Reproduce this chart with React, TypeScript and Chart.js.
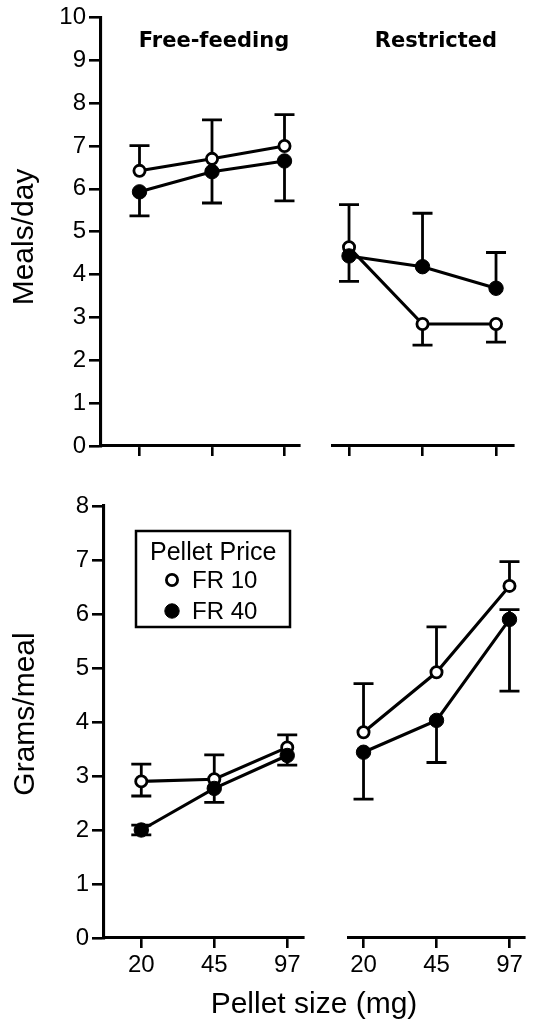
import React, { useEffect, useRef } from "react";
import { Chart, registerables } from "chart.js";

Chart.register(...registerables);

// ---------- data ----------
const pelletSizes = ["20", "45", "97"];
const groupNames = ["Free-feeding", "Restricted"];
const seriesLabels = ["FR 10", "FR 40"];
const legendTitle = "Pellet Price";
const mealsTicks = [0, 1, 2, 3, 4, 5, 6, 7, 8, 9, 10];
const gramsTicks = [0, 1, 2, 3, 4, 5, 6, 7, 8];
const mealsTitle = "Meals/day";
const gramsTitle = "Grams/meal";
const xTitle = "Pellet size (mg)";

// Meals/day – free-feeding
const mealsFreeFR10 = [6.42, 6.7, 7.0];
const mealsFreeFR10Hi = [7.01, 7.61, 7.73];
const mealsFreeFR10Lo = [null, null, null];
const mealsFreeFR40 = [5.93, 6.4, 6.65];
const mealsFreeFR40Hi = [null, null, null];
const mealsFreeFR40Lo = [5.37, 5.67, 5.72];
// Meals/day – restricted
const mealsRestFR10 = [4.61, 2.83, 2.83];
const mealsRestFR10Hi = [5.6, null, null];
const mealsRestFR10Lo = [null, 2.34, 2.41];
const mealsRestFR40 = [4.41, 4.16, 3.66];
const mealsRestFR40Hi = [null, 5.4, 4.49];
const mealsRestFR40Lo = [3.82, null, null];

// Grams/meal – free-feeding
const gramsFreeFR10 = [2.9, 2.94, 3.53];
const gramsFreeFR10Hi = [3.22, 3.39, 3.76];
const gramsFreeFR10Lo = [2.63, null, null];
const gramsFreeFR40 = [2.0, 2.77, 3.38];
const gramsFreeFR40Hi = [2.09, null, null];
const gramsFreeFR40Lo = [1.91, 2.51, 3.2];
// Grams/meal – restricted
const gramsRestFR10 = [3.81, 4.92, 6.52];
const gramsRestFR10Hi = [4.71, 5.76, 6.97];
const gramsRestFR10Lo = [null, null, null];
const gramsRestFR40 = [3.44, 4.03, 5.9];
const gramsRestFR40Hi = [null, null, 6.08];
const gramsRestFR40Lo = [2.57, 3.25, 4.57];

// ---------- styling ----------
const W = 534;
const TICK_FONT = "Liberation Sans";
const LINE_W = 3.1;

const errorBarPlugin = {
  id: "errbars",
  beforeDatasetsDraw(chart: any) {
    const ctx = chart.ctx;
    const ys = chart.scales.y;
    ctx.save();
    ctx.strokeStyle = "#000";
    ctx.lineWidth = 2.8;
    chart.data.datasets.forEach((ds: any, di: number) => {
      const meta = chart.getDatasetMeta(di);
      meta.data.forEach((pt: any, i: number) => {
        [ds.errHi?.[i], ds.errLo?.[i]].forEach((e: any) => {
          if (e == null) return;
          const y = ys.getPixelForValue(e);
          ctx.beginPath();
          ctx.moveTo(pt.x, pt.y);
          ctx.lineTo(pt.x, y);
          ctx.moveTo(pt.x - 10, y);
          ctx.lineTo(pt.x + 10, y);
          ctx.stroke();
        });
      });
    });
    ctx.restore();
  },
};

type Panel = {
  top: number;
  height: number;
  area: { left: number; right: number; top: number; bottom: number };
  xMin: number;
  xMax: number;
  yMax: number;
  yTicks: number[];
  showY: boolean;
  showXLabels: boolean;
  fr10: number[];
  fr10Hi: (number | null)[];
  fr10Lo: (number | null)[];
  fr40: number[];
  fr40Hi: (number | null)[];
  fr40Lo: (number | null)[];
  draw: (ctx: CanvasRenderingContext2D, chart: any, offY: number) => void;
};

function drawRotated(ctx: CanvasRenderingContext2D, text: string, x: number, y: number, font: string) {
  ctx.save();
  ctx.translate(x, y);
  ctx.rotate(-Math.PI / 2);
  ctx.font = font;
  ctx.textAlign = "center";
  ctx.textBaseline = "middle";
  ctx.fillStyle = "#000";
  ctx.fillText(text, 0, 0);
  ctx.restore();
}

function drawGroupTitle(ctx: CanvasRenderingContext2D, text: string, cx: number, baseline: number) {
  ctx.save();
  ctx.font = "bold 21px 'DejaVu Sans'";
  ctx.textAlign = "center";
  ctx.textBaseline = "alphabetic";
  ctx.fillStyle = "#000";
  ctx.fillText(text, cx, baseline);
  ctx.restore();
}

function drawLegend(ctx: CanvasRenderingContext2D, chart: any, offY: number) {
  const ds = chart.data.datasets;
  ctx.save();
  ctx.strokeStyle = "#000";
  ctx.lineWidth = 2.5;
  ctx.strokeRect(136, 531 - offY, 154, 96);
  ctx.fillStyle = "#000";
  ctx.textAlign = "left";
  ctx.textBaseline = "alphabetic";
  ctx.font = `25px '${TICK_FONT}'`;
  ctx.fillText(legendTitle, 150, 560 - offY);
  ctx.font = `24px '${TICK_FONT}'`;
  const rows = [588, 619];
  ds.forEach((d: any, i: number) => {
    const cy = rows[i] - 8 - offY;
    ctx.beginPath();
    ctx.arc(172, cy, d.pointRadius, 0, Math.PI * 2);
    ctx.fillStyle = d.pointBackgroundColor;
    ctx.fill();
    ctx.lineWidth = d.pointBorderWidth;
    ctx.strokeStyle = "#000";
    ctx.stroke();
    ctx.fillStyle = "#000";
    ctx.fillText(d.label, 192, rows[i] - offY);
  });
  ctx.restore();
}

const panels: Panel[] = [
  {
    top: 0,
    height: 480,
    area: { left: 101, right: 299, top: 15, bottom: 446 },
    xMin: -0.531,
    xMax: 2.2,
    yMax: 10,
    yTicks: mealsTicks,
    showY: true,
    showXLabels: false,
    fr10: mealsFreeFR10,
    fr10Hi: mealsFreeFR10Hi,
    fr10Lo: mealsFreeFR10Lo,
    fr40: mealsFreeFR40,
    fr40Hi: mealsFreeFR40Hi,
    fr40Lo: mealsFreeFR40Lo,
    draw: (ctx, chart, offY) => {
      drawGroupTitle(ctx, groupNames[0], 214, 47 - offY);
      drawRotated(ctx, mealsTitle, 25, 237 - offY, `30px '${TICK_FONT}'`);
    },
  },
  {
    top: 0,
    height: 480,
    area: { left: 333, right: 513, top: 15, bottom: 446 },
    xMin: -0.218,
    xMax: 2.231,
    yMax: 10,
    yTicks: mealsTicks,
    showY: false,
    showXLabels: false,
    fr10: mealsRestFR10,
    fr10Hi: mealsRestFR10Hi,
    fr10Lo: mealsRestFR10Lo,
    fr40: mealsRestFR40,
    fr40Hi: mealsRestFR40Hi,
    fr40Lo: mealsRestFR40Lo,
    draw: (ctx, chart, offY) => {
      drawGroupTitle(ctx, groupNames[1], 436, 47 - offY);
    },
  },
  {
    top: 480,
    height: 540,
    area: { left: 104, right: 303, top: 26, bottom: 458 },
    xMin: -0.511,
    xMax: 2.216,
    yMax: 8,
    yTicks: gramsTicks,
    showY: true,
    showXLabels: true,
    fr10: gramsFreeFR10,
    fr10Hi: gramsFreeFR10Hi,
    fr10Lo: gramsFreeFR10Lo,
    fr40: gramsFreeFR40,
    fr40Hi: gramsFreeFR40Hi,
    fr40Lo: gramsFreeFR40Lo,
    draw: (ctx, chart, offY) => {
      drawRotated(ctx, gramsTitle, 26, 714 - offY, `30px '${TICK_FONT}'`);
      ctx.save();
      ctx.font = `30px '${TICK_FONT}'`;
      ctx.textAlign = "center";
      ctx.textBaseline = "alphabetic";
      ctx.fillStyle = "#000";
      ctx.fillText(xTitle, 314, 1013 - offY);
      ctx.restore();
      drawLegend(ctx, chart, offY);
    },
  },
  {
    top: 480,
    height: 540,
    area: { left: 349, right: 524, top: 26, bottom: 458 },
    xMin: -0.199,
    xMax: 2.199,
    yMax: 8,
    yTicks: gramsTicks,
    showY: false,
    showXLabels: true,
    fr10: gramsRestFR10,
    fr10Hi: gramsRestFR10Hi,
    fr10Lo: gramsRestFR10Lo,
    fr40: gramsRestFR40,
    fr40Hi: gramsRestFR40Hi,
    fr40Lo: gramsRestFR40Lo,
    draw: () => {},
  },
];

function buildConfig(p: Panel): any {
  const toPts = (arr: number[]) => arr.map((v, i) => ({ x: i, y: v }));
  const textPlugin = {
    id: "texts",
    afterDraw(chart: any) {
      p.draw(chart.ctx, chart, p.top);
    },
  };
  return {
    type: "line",
    data: {
      datasets: [
        {
          label: seriesLabels[0],
          data: toPts(p.fr10),
          errHi: p.fr10Hi,
          errLo: p.fr10Lo,
          borderColor: "#000",
          borderWidth: LINE_W,
          pointRadius: 5.6,
          pointBorderWidth: 2.8,
          pointBackgroundColor: "#fff",
          pointBorderColor: "#000",
          order: 1,
          tension: 0,
        },
        {
          label: seriesLabels[1],
          data: toPts(p.fr40),
          errHi: p.fr40Hi,
          errLo: p.fr40Lo,
          borderColor: "#000",
          borderWidth: LINE_W,
          pointRadius: 7.2,
          pointBorderWidth: 1,
          pointBackgroundColor: "#000",
          pointBorderColor: "#000",
          order: 0,
          tension: 0,
        },
      ],
    },
    options: {
      animation: false,
      responsive: false,
      devicePixelRatio: 1,
      layout: {
        padding: {
          left: p.showY ? 0 : p.area.left,
          right: W - p.area.right,
          top: p.area.top,
          bottom: 0,
        },
      },
      plugins: {
        legend: { display: false },
        tooltip: { enabled: false },
        title: { display: false },
      },
      scales: {
        x: {
          type: "linear",
          min: p.xMin,
          max: p.xMax,
          afterFit: (s: any) => {
            s.height = p.height - p.area.bottom;
          },
          afterBuildTicks: (s: any) => {
            s.ticks = pelletSizes.map((_, i) => ({ value: i }));
          },
          grid: {
            display: true,
            drawOnChartArea: false,
            drawTicks: true,
            tickLength: 10,
            lineWidth: 2.6,
            color: "#000",
          },
          border: { display: true, color: "#000", width: LINE_W },
          ticks: {
            display: p.showXLabels,
            callback: (v: any) => pelletSizes[v],
            font: { family: TICK_FONT, size: 24 },
            color: "#000",
            padding: 3,
            maxRotation: 0,
            autoSkip: false,
          },
        },
        y: {
          display: p.showY,
          min: 0,
          max: p.yMax,
          afterFit: (s: any) => {
            s.width = p.showY ? p.area.left : 0;
          },
          afterBuildTicks: (s: any) => {
            s.ticks = p.yTicks.map((v) => ({ value: v }));
          },
          grid: {
            display: true,
            drawOnChartArea: false,
            drawTicks: true,
            tickLength: 12,
            lineWidth: 2.6,
            color: "#000",
          },
          border: { display: true, color: "#000", width: LINE_W },
          ticks: {
            callback: (v: any) => String(v),
            font: { family: TICK_FONT, size: 24 },
            color: "#000",
            padding: 3,
            autoSkip: false,
          },
        },
      },
    },
    plugins: [errorBarPlugin, textPlugin],
  };
}

function PanelChart({ p }: { p: Panel }) {
  const ref = useRef<HTMLCanvasElement | null>(null);
  useEffect(() => {
    if (!ref.current) return;
    const chart = new Chart(ref.current, buildConfig(p));
    return () => chart.destroy();
  }, [p]);
  return (
    <canvas
      ref={ref}
      width={W}
      height={p.height}
      style={{ position: "absolute", left: 0, top: p.top, width: W, height: p.height }}
    />
  );
}

export default function App() {
  return (
    <div style={{ position: "absolute", left: 0, top: 0, width: W, height: 1020, background: "#fff" }}>
      {panels.map((p, i) => (
        <PanelChart key={i} p={p} />
      ))}
    </div>
  );
}
